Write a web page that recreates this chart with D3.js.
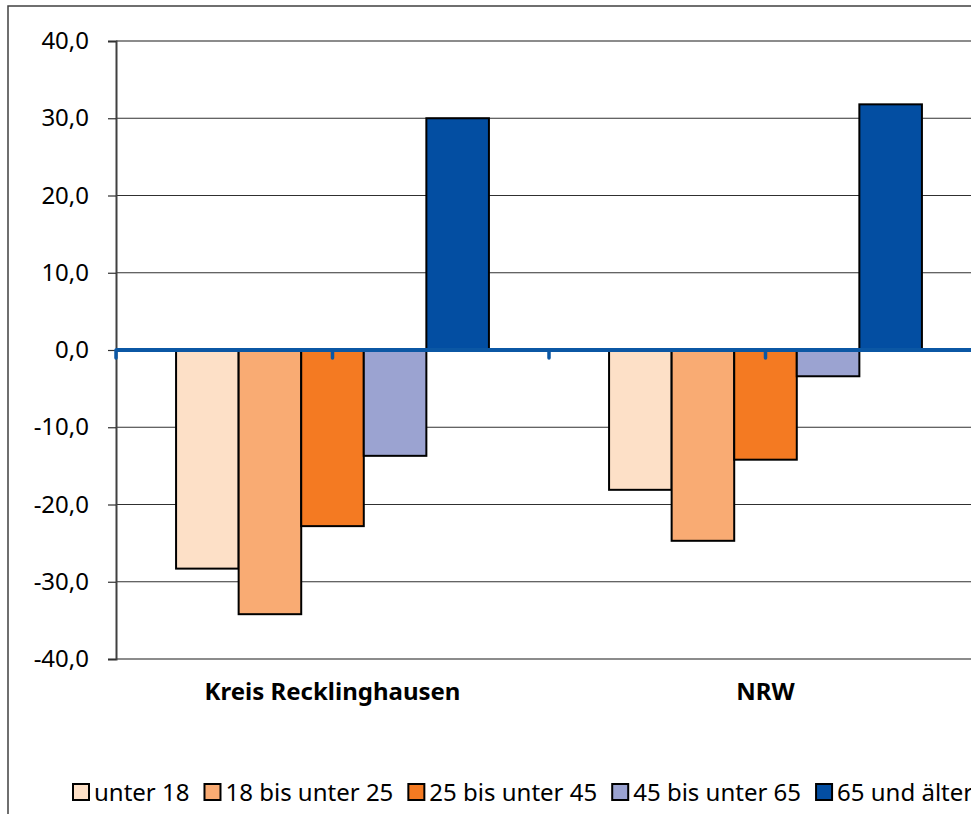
<!DOCTYPE html>
<html>
<head>
<meta charset="utf-8">
<script src="https://cdn.jsdelivr.net/npm/d3@7"></script>
<style>
body { margin: 0; background: #fff; }
svg { display: block; font-family: "Noto Sans", "Open Sans", sans-serif; }
</style>
</head>
<body>
<div id="chart"></div>
<script>
// data
var categories = ["Kreis Recklinghausen", "NRW"];
var subgroups = ["unter 18", "18 bis unter 25", "25 bis unter 45", "45 bis unter 65", "65 und älter"];
var valuesKreis = [-28.3, -34.2, -22.8, -13.7, 30.0];
var valuesNRW = [-18.1, -24.7, -14.2, -3.4, 31.8];
var yTicks = [40, 30, 20, 10, 0, -10, -20, -30, -40];
var colors = ["#fde0c7", "#f9ab73", "#f47a22", "#9ba3d1", "#034ea2"];

var seriesByCat = [valuesKreis, valuesNRW];
var data = categories.map(function(c, i) {
    return { cat: c, values: subgroups.map(function(k, j) { return { key: k, value: seriesByCat[i][j] }; }) };
});

// dimensions
var W = 971, H = 814;
var plotLeft = 116, plotRight = 982, plotTop = 41, plotBottom = 659;

var svg = d3.select("#chart").append("svg")
.attr("width", W)
.attr("height", H);

// outer frame
svg.append("rect")
.attr("x", 8).attr("y", 6)
.attr("width", 1000).attr("height", 900)
.attr("fill", "none")
.attr("stroke", "#404040")
.attr("stroke-width", 1.5);

// scales
var y = d3.scaleLinear().domain([-40, 40]).range([plotBottom, plotTop]);
var x = d3.scaleBand().domain(categories).range([plotLeft, plotRight]).padding(0);
var xSub = d3.scaleBand().domain(subgroups).range([0, x.bandwidth()]).paddingInner(0).paddingOuter(0.96);
var color = d3.scaleOrdinal().domain(subgroups).range(colors);

// gridlines
svg.append("g")
.selectAll("line")
.data(yTicks)
.enter().append("line")
.attr("x1", plotLeft).attr("x2", plotRight)
.attr("y1", function(d) { return y(d); })
.attr("y2", function(d) { return y(d); })
.attr("stroke", function(d) { return (d == 40 || d == -40) ? "#8c8c8c" : "#303030"; })
.attr("stroke-width", function(d) { return (d == 40 || d == -40) ? 2 : 1.2; });

// y axis
var yAxis = svg.append("g")
.attr("transform", "translate(" + plotLeft + ",0)")
.call(d3.axisLeft(y).tickValues(yTicks).tickSize(8).tickPadding(19)
    .tickFormat(function(d) { return d3.format(".1f")(d).replace(".", ",").replace("−", "-"); }));
yAxis.select(".domain").attr("stroke", "#404040").attr("stroke-width", 2);
yAxis.selectAll(".tick line").attr("stroke", "#303030").attr("stroke-width", 1.2);
yAxis.selectAll(".tick text")
.attr("fill", "#000")
.style("font-size", "24px")
.style("font-family", "Noto Sans, sans-serif");

// bars
svg.append("g")
.selectAll("g")
.data(data).enter().append("g")
.attr("transform", function(d) { return "translate(" + x(d.cat) + ",0)"; })
.selectAll("rect")
.data(function(d) { return d.values; })
.enter().append("rect")
.attr("x", function(d) { return xSub(d.key); })
.attr("y", function(d) { return y(Math.max(0, d.value)); })
.attr("width", xSub.bandwidth())
.attr("height", function(d) { return Math.abs(y(d.value) - y(0)); })
.attr("fill", function(d) { return color(d.key); })
.attr("stroke", "#000")
.attr("stroke-width", 2);

// zero axis line (blue) with small ticks
var zeroTicks = [];
categories.forEach(function(c) { zeroTicks.push(x(c)); zeroTicks.push(x(c) + x.bandwidth() / 2); });
svg.append("g")
.selectAll("line")
.data(zeroTicks)
.enter().append("line")
.attr("x1", function(d) { return d; }).attr("x2", function(d) { return d; })
.attr("y1", y(0)).attr("y2", y(0) + 8)
.attr("stroke", "#0b57a4")
.attr("stroke-width", 3.5)
.attr("stroke-linecap", "round");
svg.append("line")
.attr("x1", plotLeft).attr("x2", plotRight)
.attr("y1", y(0)).attr("y2", y(0))
.attr("stroke", "#0b57a4")
.attr("stroke-width", 4);

// category labels
svg.append("g")
.selectAll("text")
.data(categories)
.enter().append("text")
.attr("x", function(d) { return x(d) + x.bandwidth() / 2; })
.attr("y", 700)
.attr("text-anchor", "middle")
.style("font-size", "24px")
.style("font-weight", "bold")
.text(function(d) { return d; });

// legend
var legend = svg.append("g").attr("transform", "translate(72,0)");
var lx = 0;
subgroups.forEach(function(k) {
    var g = legend.append("g").attr("transform", "translate(" + lx + ",0)");
    g.append("rect")
    .attr("x", 1).attr("y", 784)
    .attr("width", 16).attr("height", 16)
    .attr("fill", color(k))
    .attr("stroke", "#000")
    .attr("stroke-width", 2);
    var t = g.append("text")
    .attr("x", 22).attr("y", 801)
    .style("font-size", "24px")
    .text(k);
    lx += 22 + t.node().getComputedTextLength() + 14;
});
</script>
</body>
</html>
